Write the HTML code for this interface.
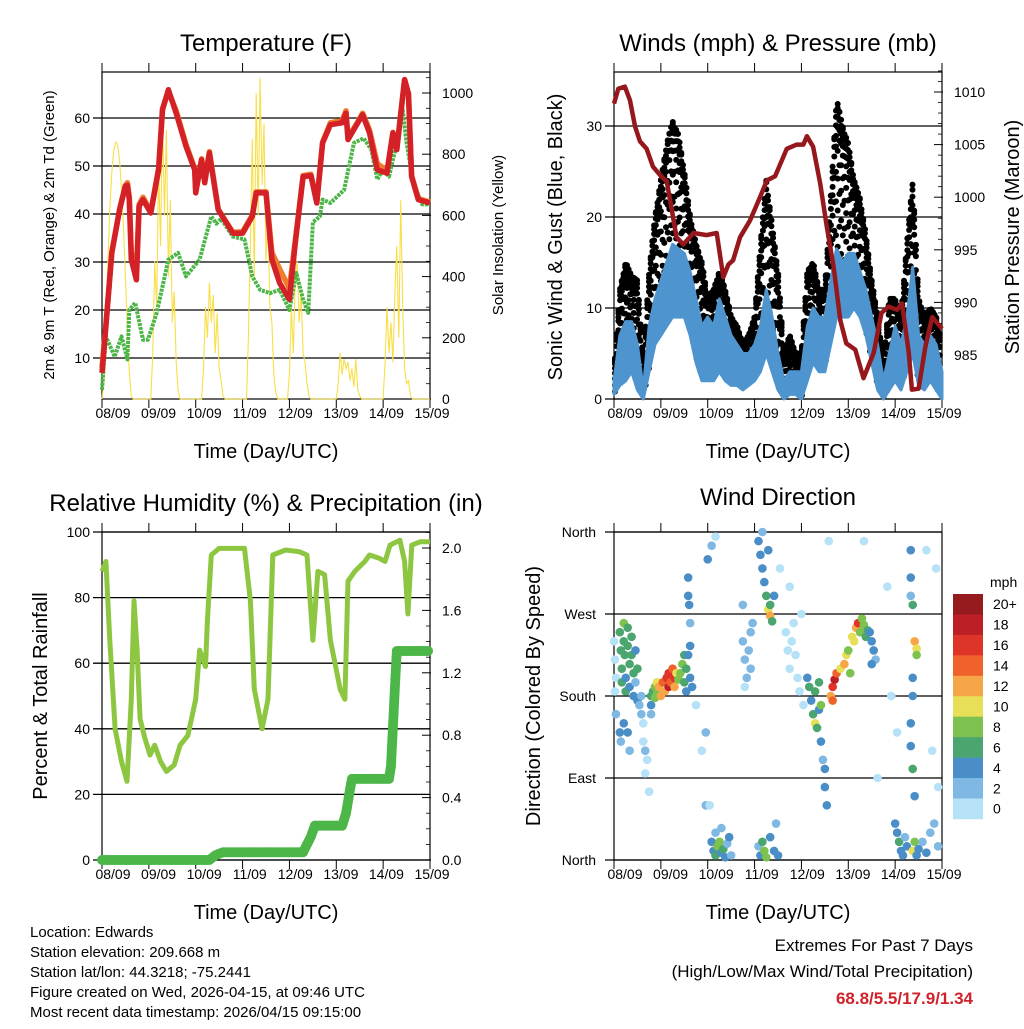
<!DOCTYPE html>
<html><head><meta charset="utf-8"><style>
body{margin:0;background:#fff}
svg text{font-family:"Liberation Sans",sans-serif;fill:#000}
</style></head><body>
<svg id="c" xmlns="http://www.w3.org/2000/svg" width="1024" height="1024" viewBox="0 0 1024 1024">
<rect width="1024" height="1024" fill="#fff"/>
</svg>
<script>
// ---------- DATA ----------
const tempHours=[0,2,5,9,12,13,14,15,17.6,19,21,25,29,31,34,38,43,47.5,48,51,52.6,55,59.5,67,72,77,79,84,87,91,96,99,103,107,110,113,117,123,125,126,130,133.5,137,141,146,149,151,155,157,158.6,162,168];
const tempRed=[6.9,16.6,31.9,40.9,45.8,46,43,30.5,26.3,41.6,43,40.2,49.2,61.7,65.9,61,54.1,49.2,44.4,51.3,46.5,52.7,40.9,36,36,39.5,44.4,44.4,30.5,25.6,22.2,34,47.8,48,42.3,54.8,58.6,59,61,55.5,58.3,60.7,56.9,49.2,48.5,56.9,53.4,68,65,47.8,43,42.3];
const tempOrange=[8,17,32,41,46,46.5,43.5,32,28,42,43.5,40.5,49.5,62,65.5,61.5,54.5,49.5,45,51.5,47,53,41,36.2,36.3,39.8,44.6,44.6,32,28.5,24.5,34.5,48,48.3,42.5,55,59,59.5,61.5,56,58.5,61,57.5,50.5,49,57,53.6,68,65,48,43.2,42.5];
const dewHours=[0,2,6.5,10,13,14,17,21,23.5,28,34,39,43,50,56,58.6,61,67,73,77,81,86,91,96,99.5,103,105.6,108,111.6,113,117,124,129,134,138,141,144,147,151,154,156,159.5,164,168];
const dewGreen=[3.4,14.5,10.3,14.5,9.7,20,21.5,13.8,13.8,19.4,30.5,31.9,27,30.5,39.5,38,39,35.3,34.7,27,24.2,23.5,24.2,20,27.7,22.2,19.4,38.3,39.5,43,42.3,45,54.8,55.8,53.4,47.2,49.2,47.8,54.8,61.7,54.8,46.5,42,42];
const solar=[0,60,250,450,620,740,810,840,830,780,690,560,400,230,90,10,0,0,0,0,0,0,0,0,0,0,
150,450,300,750,500,930,600,880,400,650,250,350,120,30,0,0,0,0,0,0,0,0,0,0,0,0,
100,300,200,380,250,340,150,280,100,60,10,0,0,0,0,0,0,0,0,0,0,0,0,
200,500,850,400,1000,600,1050,700,900,450,600,300,250,80,20,0,0,0,0,0,0,
80,300,150,400,450,250,350,150,120,50,10,0,0,0,0,0,0,0,0,0,0,0,0,0,0,
50,150,80,130,100,120,60,100,40,130,30,10,0,0,0,0,0,0,0,0,0,0,0,0,
120,300,150,250,120,350,500,200,650,300,100,50,60,10,0,0,0,0,0,0,0,0,0,0];
const windHours=[0,3,6,9,12,15,18,21,24,27,30,33,36,39,42,45,48,51,54,57,60,63,66,69,72,75,78,81,84,87,90,93,96,99,102,105,108,111,114,117,120,123,126,129,132,135,138,141,144,147,150,153,156,159,162,165,168];
const windHi=[2,7,8.5,8.5,6,1,8,11,13,15,17,16.5,16,14,11,8,9,8,11,9,7,6,5,5,6,8,12,9,5,2,3,3,3,8,10,9,9,13,16.5,15,16,16,14,12,9,6,2,5,8,6,9,14.5,7,6,7,6,3];
const windLo=[0.5,1.5,2,3,1,0,3,6,7,8,9,9,9,7,4,2,2,2,3,2,1.5,1.5,1,1.5,2,3,5,3,1,0,0.5,0.5,0,2,4,3,3,6,9,9,9,10,9,7,4,1,0,1,2,1,3,5,1.5,1,2,1,0];
const gustHi=[3,12,15,13.5,13,4,14,20,24,28,30.5,29,25,20,17,15,11,12,14,12,9,8,6,7,9,17,24,19,14,5,7,5,5,14,15,12,12,22,33,30,28,24,22,18,13,9,4,11,11,9,17,24,11,9,10,9,6];
const presHours=[0,2.2,5.6,8.2,10.8,13.3,16.7,20,23.6,27,29.6,32,35.5,40.7,47.5,52.6,56,58.6,61,64.6,69.7,74.8,78.3,82.5,88.5,93.6,97,98.8,102,105.6,109,112.5,115.9,119,123.6,127.8,133,137,140.6,145,147.5,151,152.6,156,159.5,163,168];
const pressure=[1008.9,1010.3,1010.5,1009.2,1006.7,1005.3,1004.6,1002.9,1002.1,1001.5,998.8,996.2,995.5,996.6,996.4,996.6,992.4,993.6,994,996.2,997.8,1000,1001.6,1002,1004.6,1005,1005,1005.8,1004.8,1001.3,997.2,993.4,988.3,986.1,985.5,982.8,985.2,989,989.6,989.3,989.9,985.2,981.7,981.8,985.8,988.6,987.5];
const rhHours=[0,2,4,6.7,10,12.8,15,16.4,18,19.5,22,24.6,27,30,33,37,40,44,48,50,53,54,56,60,68,73,76,78,82,85,87.5,94,101,105,108,110.6,114,117,122,124.4,126,129.5,134.6,137,142,145,147.5,152.6,155,156.7,158.7,163,168];
const rhValues=[88,91,67,40,30,24,49,79,64,43,37,32,35,30,27,29,35,38,49,64,59,73,93,95,95,95,79,52,40,49,93,94.5,94,93,67,88,87,67,52,49,85,88,91,93,92,91,96,97.5,91,75,96,97,97];
const rainHours=[0,55,58,62,103,105,107,109,123,125,127,128,147,148,149,150,151,168];
const rainValues=[0,0,0.03,0.05,0.05,0.1,0.15,0.22,0.22,0.3,0.45,0.52,0.52,0.6,0.85,1.1,1.34,1.34];
const dirT=[0,0.5,1,0.5,1,3,3.5,4,4,5,5,5.5,6,6,7,7,8,8,9,9,10,10,11,11,12,12,5,7,8,3,3.5,
13,14,15,15,16,17,16,14,18,19,19,
19,20,21,22,21,22,
23,24,25,26,27,28,28,29,30,31,31,32,33,
34,35,36,37,37,36,
38,38.5,39,39,38,39,40,38,42,45,47,47,
49,50,51,52,53,54,55,56,57,58,59,60,52,55,48,50,52,
66,67,68,69,70,70,71,67,66,
74,75,76,77,78,79,80,80,81,82,79,76,
74,75,76,77,78,80,82,84,83,
88,89,90,91,92,93,94,95,96,90,97,
99,100,101,102,103,104,105,106,107,108,108,109,103,105,106,
111,112,113,114,112,
116,118,119,120,121,122,123,124,125,126,127,128,129,130,
131,132,133,134,132,
144,145,146,147,148,149,150,153,154,155,156,158,160,162,164,166,
152,152,152,153,153,153,152,152,153,154,
154,155,155,
140,142,145,160,165,166,163,135,128,110,85];
const dirDeg=[240,220,200,185,160,250,230,210,195,260,240,225,200,185,255,235,215,190,245,225,205,180,230,195,210,175,150,140,120,140,130,
170,160,150,130,120,110,95,180,75,160,170,
180,185,190,195,178,182,
190,180,195,185,200,190,205,195,210,200,190,205,198,
205,215,195,210,185,225,
290,280,260,235,225,200,190,310,170,120,60,140,
60,20,10,5,15,20,8,12,3,18,25,5,30,35,330,345,355,
240,220,200,230,250,210,260,190,280,
350,335,320,305,290,275,268,280,262,290,340,360,
15,5,20,10,3,25,10,5,40,
250,230,210,240,260,225,200,185,270,300,170,
200,190,175,160,150,145,165,130,110,100,80,60,185,195,170,
180,190,198,205,175,
210,215,225,230,205,245,240,255,260,250,265,258,245,252,
250,240,230,220,215,
40,30,20,10,5,25,15,10,20,5,12,20,8,30,40,15,
340,310,290,280,200,180,150,125,100,70,
240,232,225,
300,180,140,340,320,80,120,90,350,350,320];
const dirSpeed=[1,1,0,1,2,7,6,6,7,8,7,6,5,7,7,6,7,4,6,7,6,5,4,3,6,4,4,5,3,4,3,
2,3,1,1,2,1,0,2,1,3,4,
6,7,8,10,8,9,
12,12,14,13,16,18,17,15,14,16,12,10,9,
8,9,7,6,5,6,
4,4,3,4,4,5,4,4,1,1,2,2,
1,4,5,6,9,8,4,6,4,3,4,3,3,2,4,2,1,
2,2,2,3,2,2,3,1,2,
4,4,5,4,6,10,12,6,7,4,4,3,
3,4,6,9,8,4,5,4,3,
1,0,1,0,1,0,1,0,1,1,1,
4,6,5,7,10,6,4,4,3,4,5,4,7,6,8,
12,16,18,15,14,
11,12,10,9,8,10,11,13,16,9,9,8,7,6,
4,5,4,3,4,
4,5,6,4,4,3,5,10,8,4,4,2,4,3,2,3,
4,4,3,6,4,5,4,5,7,4,
12,10,9,
0,1,1,1,1,1,1,1,1,1,1];
const dayLabels=["08/09","09/09","10/09","11/09","12/09","13/09","14/09","15/09"];
const colorLevels=["20+","18","16","14","12","10","8","6","4","2","0"];
const levelColors=["#951b1e","#bd1f26","#de3528","#ef622c","#f6a646","#e6df57","#7dc24e","#4aa66e","#4a8ec7","#7fb8e3","#b5e2f7"];

// ---------- HELPERS ----------
const NS="http://www.w3.org/2000/svg";
const svg=document.getElementById('c');
function mk(tag,attrs,parent){const e=document.createElementNS(NS,tag);for(const k in attrs)e.setAttribute(k,attrs[k]);(parent||svg).appendChild(e);return e;}
function txt(x,y,s,size,anchor,parent,extra){const e=mk('text',Object.assign({x:x,y:y,'font-size':size,'text-anchor':anchor||'middle'},extra||{}),parent);e.textContent=s;return e;}
const T0=0,T1=168;
function xs(left,right){return t=>left+(t-T0)/(T1-T0)*(right-left);}
function ys(top,bottom,vmin,vmax){return v=>bottom-(v-vmin)/(vmax-vmin)*(bottom-top);}
function pathOf(xa,ya,fx,fy){return xa.map((t,i)=>(i?'L':'M')+fx(t).toFixed(1)+','+fy(ya[i]).toFixed(1)).join('');}
function interp(xa,ya,t){for(let i=0;i<xa.length-1;i++){if(t<=xa[i+1]){const f=(t-xa[i])/(xa[i+1]-xa[i]);return ya[i]+(ya[i+1]-ya[i])*f;}}return ya[ya.length-1];}

function panelFrame(g,L,R,Tp,B,gridYs){
  for(const y of gridYs){const l=mk('line',{x1:L-9,x2:R,y1:y,y2:y,stroke:'#000','stroke-width':1.3},g);
  
  }
  const fr=mk('rect',{x:L,y:Tp,width:R-L,height:B-Tp,fill:'none',stroke:'#000','stroke-width':1.2},g);
  
  
  const fx=xs(L,R);
  for(let d=0;d<=7;d++){const x=fx(d*24);
    mk('line',{x1:x,x2:x,y1:Tp-9,y2:Tp,stroke:'#000','stroke-width':1},g);
    mk('line',{x1:x,x2:x,y1:B,y2:B+9,stroke:'#000','stroke-width':1},g);}
  const lx0=L+11,lx1=R+2;
  dayLabels.forEach((s,i)=>{const t=txt(lx0+i*(lx1-lx0)/7,B+19,s,14,'middle',g);
    
    });
  const xt=txt((L+R)/2,B+59,'Time (Day/UTC)',20,'middle',g);
  
  
}
function rightTicks(g,R,fy,vals,minorVals){
  for(const v of minorVals){const y=fy(v);mk('line',{x1:R-4,x2:R,y1:y,y2:y,stroke:'#000','stroke-width':0.8},g);}
  for(const v of vals){const y=fy(v);mk('line',{x1:R-8,x2:R+1,y1:y,y2:y,stroke:'#000','stroke-width':1},g);}
}
function rotText(x,y,s,size,g,name){const e=txt(x,y,s,size,'middle',g,{transform:`rotate(-90 ${x} ${y})`});
  
  return e;}

// ---------- PANEL 1: TEMPERATURE ----------
(function(){
  const g=mk('g',{});
  
  
  const L=102,R=430,Tp=72,B=399;
  const fx=xs(L,R);
  const fy=v=>118+(60-v)*4.8;
  const fs=ys(93,399,0,1000);
  panelFrame(g,L,R,Tp,B,[10,20,30,40,50,60].map(fy));
  rightTicks(g,R,fs,[0,200,400,600,800,1000],[50,100,150,250,300,350,450,500,550,650,700,750,850,900,950,1050]);
  const sol=mk('path',{d:pathOf(solar.map((v,i)=>i),solar,fx,v=>Math.max(Tp,fs(v))),fill:'none',stroke:'#f8df48','stroke-width':1.1},g);
  
  
  const dw=mk('path',{d:pathOf(dewHours,dewGreen,fx,fy),fill:'none',stroke:'#4bb548','stroke-width':4,'stroke-dasharray':'3 1','stroke-linejoin':'round'},g);
  
  
  const or=mk('path',{d:pathOf(tempHours,tempOrange,fx,fy),fill:'none',stroke:'#f07c2c','stroke-width':5.5,'stroke-linejoin':'round'},g);
  
  
  const rd=mk('path',{d:pathOf(tempHours,tempRed,fx,fy),fill:'none',stroke:'#d42027','stroke-width':5.5,'stroke-linejoin':'round'},g);
  
  
  [10,20,30,40,50,60].forEach(v=>{const t=txt(L-12,fy(v)+5,String(v),14,'end',g);
    
    });
  [0,200,400,600,800,1000].forEach(v=>{const t=txt(R+12,fs(v)+5,String(v),14,'start',g);
    
    });
  const ti=txt(266,51,'Temperature (F)',24,'middle',g);
  
  
  rotText(54,235,'2m & 9m T (Red, Orange) & 2m Td (Green)',15,g,'y-axis-title');
  rotText(503,235,'Solar Insolation (Yellow)',15,g,'y2-axis-title');
})();

// ---------- PANEL 2: WINDS ----------
(function(){
  const g=mk('g',{});
  
  
  const L=614,R=942,Tp=72,B=399;
  const fx=xs(L,R);
  const fy=v=>399-v*9.1;
  const fp=v=>92+(1010-v)*10.52;
  panelFrame(g,L,R,Tp,B,[0,10,20,30].map(fy));
  rightTicks(g,R,fp,[985,990,995,1000,1005,1010],[982,983,984,986,987,988,989,991,992,993,994,996,997,998,999,1001,1002,1003,1004,1006,1007,1008,1009,1011,1012]);
  const gg=mk('g',{fill:'#000'},g);
  
  
  const fr=[0.04,0.13,0.22,0.31,0.4,0.48,0.56,0.63,0.7,0.76,0.82,0.87,0.92,0.96,0.99];
  let j=0;
  for(let x=L+1;x<=R-1;x+=1.7,j++){
    const t=(x-L)/(R-L)*168;
    const lo=interp(windHours,windLo,t),hi=interp(windHours,gustHi,t);
    fr.forEach((f,k)=>{
      if((k+j)%2 && f<0.85) return;
      const ff=Math.min(1,f+((j*7)%5)*0.01);
      mk('circle',{cx:x.toFixed(1),cy:fy(lo+(hi-lo)*ff).toFixed(1),r:3},gg);
    });
  }
  const top2=windHours.map((t,i)=>fx(t).toFixed(1)+','+fy(windHi[i]).toFixed(1));
  const bot2=windHours.map((t,i)=>fx(t).toFixed(1)+','+fy(windLo[i]).toFixed(1)).reverse();
  const wp=mk('polygon',{points:top2.concat(bot2).join(' '),fill:'#4e95d0',stroke:'#4e95d0','stroke-width':3,'stroke-linejoin':'round'},g);
  
  
  const pp=mk('path',{d:pathOf(presHours,pressure,fx,fp),fill:'none',stroke:'#96181c','stroke-width':4.5,'stroke-linejoin':'round'},g);
  
  
  [0,10,20,30].forEach(v=>{const t=txt(L-12,fy(v)+5,String(v),14,'end',g);
    
    });
  [985,990,995,1000,1005,1010].forEach(v=>{const t=txt(R+12,fp(v)+5,String(v),14,'start',g);
    
    });
  const ti=txt(778,51,'Winds (mph) & Pressure (mb)',24,'middle',g);
  
  
  rotText(562,237,'Sonic Wind & Gust (Blue, Black)',20,g,'y-axis-title');
  rotText(1019,237,'Station Pressure (Maroon)',20,g,'y2-axis-title');
})();

// ---------- PANEL 3: RH & PRECIP ----------
(function(){
  const g=mk('g',{});
  
  
  const L=102,R=430,Tp=532,B=860;
  const fx=xs(L,R);
  const fy=ys(532,860,0,100);
  const fr=v=>860-v*156;
  panelFrame(g,L,R,Tp,B,[0,20,40,60,80,100].map(fy));
  rightTicks(g,R,fr,[0,0.4,0.8,1.2,1.6,2.0],[0.1,0.2,0.3,0.5,0.6,0.7,0.9,1.0,1.1,1.3,1.4,1.5,1.7,1.8,1.9,2.1]);
  const rh=mk('path',{d:pathOf(rhHours,rhValues,fx,fy),fill:'none',stroke:'#8dc641','stroke-width':5,'stroke-linejoin':'round'},g);
  
  
  for(let i=0;i<rainHours.length-1;i++){
    const t0=rainHours[i],t1=rainHours[i+1],v0=rainValues[i],v1=rainValues[i+1];
    const n=Math.max(1,Math.ceil((fx(t1)-fx(t0))/2));
    const m=Math.max(n,Math.ceil(Math.abs(fr(v1)-fr(v0))/3));
    for(let k=0;k<m;k++){const f=k/m;
      const c=mk('circle',{cx:fx(t0+(t1-t0)*f),cy:fr(v0+(v1-v0)*f),r:5,fill:'#4cb748'},g);
      
      }
  }
  [0,20,40,60,80,100].forEach(v=>{const t=txt(L-12,fy(v)+5,String(v),14,'end',g);
    
    });
  [0,0.4,0.8,1.2,1.6,2.0].forEach(v=>{const t=txt(R+12,fr(v)+5,v.toFixed(1),14,'start',g);
    
    });
  const ti=txt(266,511,'Relative Humidity (%) & Precipitation (in)',24,'middle',g);
  
  
  rotText(47,696,'Percent & Total Rainfall',20,g,'y-axis-title');
})();

// ---------- PANEL 4: WIND DIRECTION ----------
(function(){
  const g=mk('g',{});
  
  
  const L=614,R=942,Tp=532,B=860;
  const fx=xs(L,R);
  const fy=ys(532,860,0,360);
  panelFrame(g,L,R,Tp,B,[0,90,180,270,360].map(fy));
  dirT.forEach((t,i)=>{const s=dirSpeed[i];const lvl=Math.min(10,Math.floor(s/2));
    const c=mk('circle',{cx:fx(t),cy:fy(dirDeg[i]),r:4.3,fill:levelColors[10-lvl]},g);
    
    });
  ['North','East','South','West','North'].forEach((s,i)=>{const t=txt(L-18,fy(i*90)+5,s,14,'end',g);
    
    });
  const ti=txt(778,505,'Wind Direction',24,'middle',g);
  
  
  rotText(540,696,'Direction (Colored By Speed)',20,g,'y-axis-title');
  const cb=mk('g',{},g);
  
  
  const bh=20.45;
  colorLevels.forEach((s,i)=>{const r=mk('rect',{x:953,y:594+i*bh,width:30,height:bh+0.3,fill:levelColors[i]},cb);
    
    
    const t=txt(993,594+i*bh+bh/2+5,s,14,'start',cb);
    
    });
  const u=txt(990,587,'mph',14,'start',cb);
  
  
})();

// ---------- FOOTER ----------
(function(){
  const g=mk('g',{});
  
  
  ['Location: Edwards','Station elevation: 209.668 m','Station lat/lon: 44.3218; -75.2441','Figure created on Wed, 2026-04-15, at 09:46 UTC','Most recent data timestamp: 2026/04/15 09:15:00'].forEach((s,i)=>{
    const t=txt(30,937+i*20,s,15,'start',g);
    
    });
  const a=txt(973,951,'Extremes For Past 7 Days',17,'end',g);
  
  
  const b=txt(973,977,'(High/Low/Max Wind/Total Precipitation)',17,'end',g);
  
  
  const c=txt(973,1004,'68.8/5.5/17.9/1.34',17,'end',g,{'font-weight':'bold'});
  c.style.fill='#d0222a';
  
  
})();
</script>
</body></html>
